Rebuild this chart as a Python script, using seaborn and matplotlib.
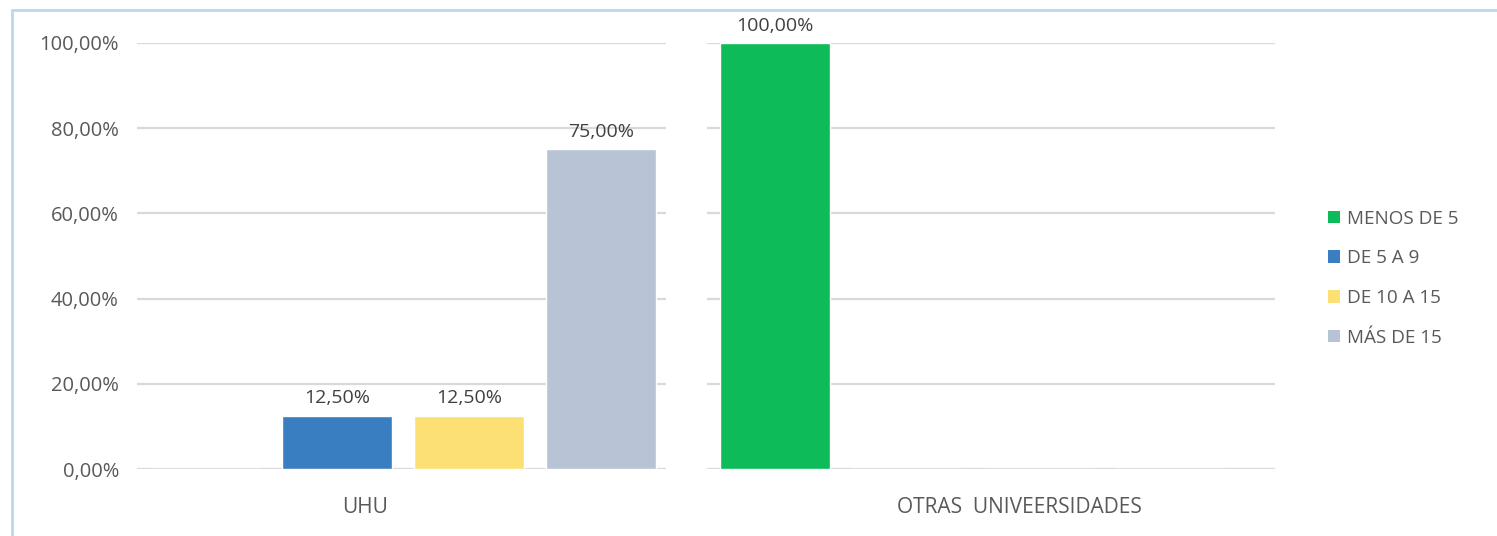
import pandas as pd
import matplotlib
matplotlib.use("Agg")
import matplotlib.pyplot as plt
import seaborn as sns
from matplotlib.lines import Line2D
from matplotlib.patches import Patch

# data
categories = ["UHU", "OTRAS  UNIVEERSIDADES"]
series = ["MENOS DE 5", "DE 5 A 9", "DE 10 A 15", "MÁS DE 15"]
uhu_values = [0.0, 12.5, 12.5, 75.0]
otras_values = [100.0, 0.0, 0.0, 0.0]
colors = ["#0DBB58", "#3A7EC2", "#FDE073", "#B8C3D5"]
yticks = [0, 20, 40, 60, 80, 100]

rows = []
for cat, vals in zip(categories, [uhu_values, otras_values]):
    for s, v in zip(series, vals):
        rows.append({"grupo": cat, "serie": s, "valor": v})
df = pd.DataFrame(rows)

sns.set_style("white")
plt.rcParams["font.family"] = ["Open Sans", "DejaVu Sans"]
text_color = "#595959"

fig = plt.figure(figsize=(14.97, 5.36), dpi=100)
ax = fig.add_axes([0.0915, 0.125, 0.7602, 0.7948])

sns.barplot(data=df, x="grupo", y="valor", hue="serie", order=categories,
            hue_order=series, palette=colors, width=0.926, gap=0.167,
            saturation=1, legend=False, ax=ax)

ax.set_xlim(-0.467, 1.53)
ax.set_ylim(0, 100)

# gridlines, broken between the two groups as in the original
for y in yticks:
    ax.hlines(y, -0.467, 0.461, color="#D9D9D9", lw=1.6, zorder=0)
    ax.hlines(y, 0.533, 1.53, color="#D9D9D9", lw=1.6, zorder=0)

# value labels, only for non-zero bars
for container, s in zip(ax.containers, series):
    vals = df[df["serie"] == s]["valor"].tolist()
    labels = [f"{v:.2f}%".replace(".", ",") if v > 0 else "" for v in vals]
    ax.bar_label(container, labels=labels, padding=6, fontsize=14,
                 color="#404040", clip_on=False)

ax.set_yticks(yticks)
ax.set_yticklabels([f"{v:.2f}%".replace(".", ",") for v in yticks])
ax.set_xticks([-0.067, 1.082])
ax.set_xticklabels(categories)
ax.tick_params(axis="y", length=0, pad=13, labelsize=14.5, labelcolor=text_color)
ax.tick_params(axis="x", length=0, pad=20, labelsize=15, labelcolor=text_color)
ax.set_xlabel("")
ax.set_ylabel("")
sns.despine(ax=ax, left=True, bottom=True)

handles = [Patch(facecolor=c, edgecolor="none") for c in colors]
leg = fig.legend(handles, series, loc="center left", bbox_to_anchor=(0.882, 0.481),
                 frameon=False, fontsize=13.6, handlelength=0.65, handleheight=0.65,
                 handletextpad=0.35, labelspacing=1.15, borderaxespad=0)
for t in leg.get_texts():
    t.set_color(text_color)

# light blue frame lines (top and left) of the original picture
fig.add_artist(Line2D([0.008, 1.0], [0.9813, 0.9813], color="#BDD7EE", lw=2,
                      transform=fig.transFigure))
fig.add_artist(Line2D([0.008, 0.008], [0.0, 0.9813], color="#BDD7EE", lw=2,
                      transform=fig.transFigure))

fig.savefig("out.png", dpi=100)
